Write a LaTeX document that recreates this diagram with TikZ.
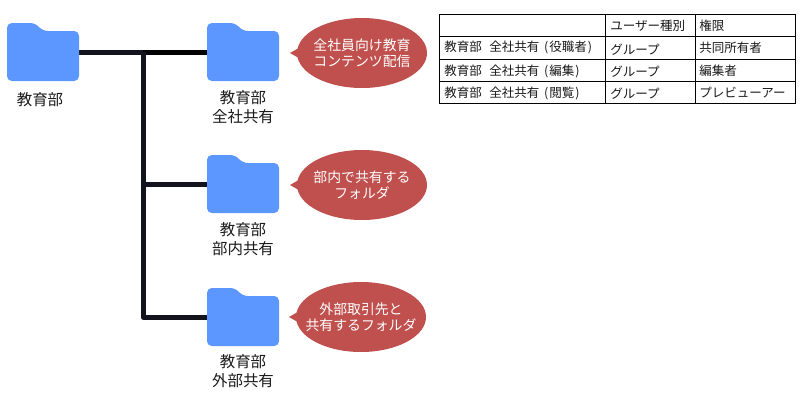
\documentclass[tikz,border=0pt]{standalone}
\usepackage{fontspec}
\setmainfont{Noto Sans CJK JP}
\usetikzlibrary{shapes.callouts}
\definecolor{folderblue}{HTML}{5C97FF}
\definecolor{bubblered}{HTML}{C0504D}
\definecolor{trunk}{HTML}{13131D}
\definecolor{labelink}{HTML}{1A1A1A}
\tikzset{
  folderbox/.style={minimum width=54pt,minimum height=43.5pt,inner sep=0pt,outer sep=0pt},
  folderlabel/.style={align=center,text=labelink,inner sep=0pt,font=\fontsize{11.6}{14.25}\selectfont},
  bubble/.style={ellipse callout,fill=bubblered,inner sep=0pt,
    minimum width=97.5pt,minimum height=52.5pt,callout pointer arc=14},
  bubbletext/.style={text=white,align=center,inner sep=0pt,font=\fontsize{10.4}{12}\selectfont},
  link/.style={line width=3.75pt,line join=round,color=trunk},
  linkblack/.style={line width=3.75pt,color=black},
  cell/.style={anchor=west,inner sep=0pt,text=labelink,font=\fontsize{9.4}{11}\selectfont},
  grid/.style={line width=0.75pt,color=black},
}
\newcommand{\folderfill}[2]{%
  \fill[folderblue,rounded corners=3.6pt]
    (#1-36,#2+29) -- (#1-36,#2-29) -- (#1-8,#2-29) -- (#1,#2-21) -- (#1+36,#2-21) -- (#1+36,#2+29) -- cycle;
}
\newcommand{\rowlabel}[1]{教育部\hspace{3.5pt} 全社共有\hspace{3.4pt}(\hspace{0.8pt}#1\hspace{0.8pt})}
\begin{document}
\begin{tikzpicture}[x=0.75pt,y=-0.75pt]
\useasboundingbox (0,0) rectangle (800,400);
\fill[white] (0,0) rectangle (800,400);
\node[folderbox] (f0) at (43,52) {};
\node[folderbox] (f1) at (243,52) {};
\node[folderbox] (f2) at (243,184) {};
\node[folderbox] (f3) at (243,317) {};
\coordinate (j1) at (143,52);
\coordinate (j2) at (143,184);
\coordinate (j3) at (143,317);
\draw[linkblack] (j1) -- (f1.west);
\draw[link] (f0.east) -- (j1);
\draw[link] (j1) -- (j3) -- (f3.west);
\draw[link] (j2) -- (f2.west);
\folderfill{43}{52}
\folderfill{243}{52}
\folderfill{243}{184}
\folderfill{243}{317}
\node[folderlabel] (l0) at (40,100) {教育部};
\node[folderlabel] (l1) at (243,107.5) {教育部\\全社共有};
\node[folderlabel] (l2) at (243,239.5) {教育部\\部内共有};
\node[folderlabel] (l3) at (243,371) {教育部\\外部共有};
\coordinate (t1) at (290,53);
\coordinate (t2) at (290,185);
\coordinate (t3) at (289,317);
\node[bubble,callout absolute pointer={(t1)}] (b1) at (362,53) {};
\node[bubble,callout absolute pointer={(t2)}] (b2) at (362,185) {};
\node[bubble,callout absolute pointer={(t3)}] (b3) at (361,317) {};
\node[bubbletext] (s1) at (b1) {全社員向け教育\\コンテンツ配信};
\node[bubbletext] (s2) at (b2) {部内で共有する\\フォルダ};
\node[bubbletext] (s3) at (b3) {外部取引先と\\共有するフォルダ};
% table
\draw[grid] (439,14) rectangle (795,103);
\draw[grid] (439,36) -- (795,36);
\draw[grid] (439,59) -- (795,59);
\draw[grid] (439,81) -- (795,81);
\draw[grid] (605,14) -- (605,103);
\draw[grid] (695,14) -- (695,103);
\node[cell] (c01) at (610,26) {ユーザー種別};
\node[cell] (c02) at (699,26) {権限};
\node[cell] (c10) at (444,47.5) {\rowlabel{役職者}};
\node[cell] (c11) at (610,50) {グループ};
\node[cell] (c12) at (699,47.5) {共同所有者};
\node[cell] (c20) at (444,71) {\rowlabel{編集}};
\node[cell] (c21) at (610,72) {グループ};
\node[cell] (c22) at (699,71) {編集者};
\node[cell] (c30) at (444,93) {\rowlabel{閲覧}};
\node[cell] (c31) at (610,93.5) {グループ};
\node[cell] (c32) at (699,93) {プレビューアー};
\end{tikzpicture}
\end{document}
